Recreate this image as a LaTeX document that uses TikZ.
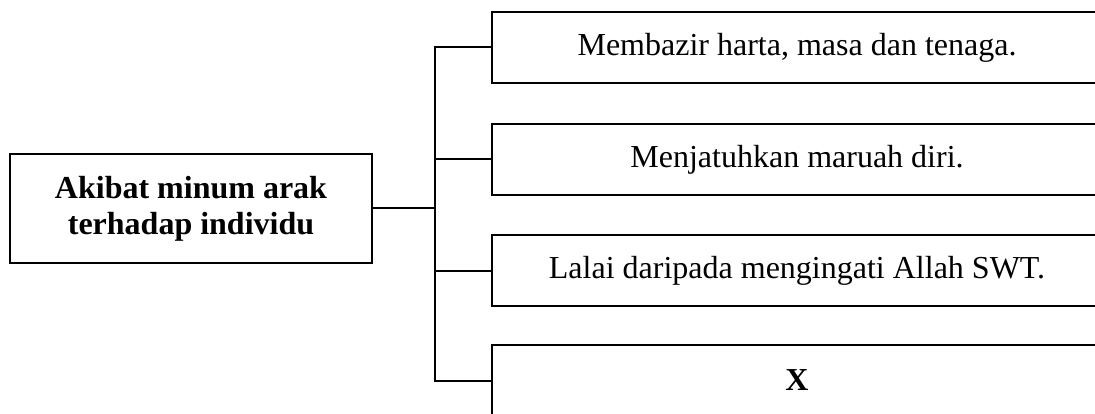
\documentclass[tikz,border=0pt]{standalone}
\usepackage{fontspec}
\setmainfont{Liberation Serif}
\usetikzlibrary{positioning}

\begin{document}
\begin{tikzpicture}[x=1pt,y=-1pt,line width=2pt,
    mainbox/.style={draw,minimum width=362pt,minimum height=109pt,align=center,
        font=\fontsize{32}{36}\selectfont\bfseries},
    itembox/.style={draw,minimum width=610pt,minimum height=71pt,
        font=\fontsize{32}{36}\selectfont}]
    \useasboundingbox (0,0) rectangle (1095,414);
    \node[mainbox] (effect) at (191,208.5) {Akibat minum arak\\terhadap individu};
    \node[itembox] (item1) at (797,47.5) {Membazir harta, masa dan tenaga.};
    \node[itembox] (item2) at (797,159.5) {Menjatuhkan maruah diri.};
    \node[itembox] (item3) at (797,270.5) {Lalai daripada mengingati Allah SWT.};
    \node[itembox] (item4) at (797,380.5) {\textbf{X}};
    \coordinate (trunk) at (435,208.5);
    \draw (effect.east) -- (trunk);
    \foreach \i in {1,...,4}
        \draw (item\i.west) -| (trunk);
    \end{tikzpicture}
\end{document}
